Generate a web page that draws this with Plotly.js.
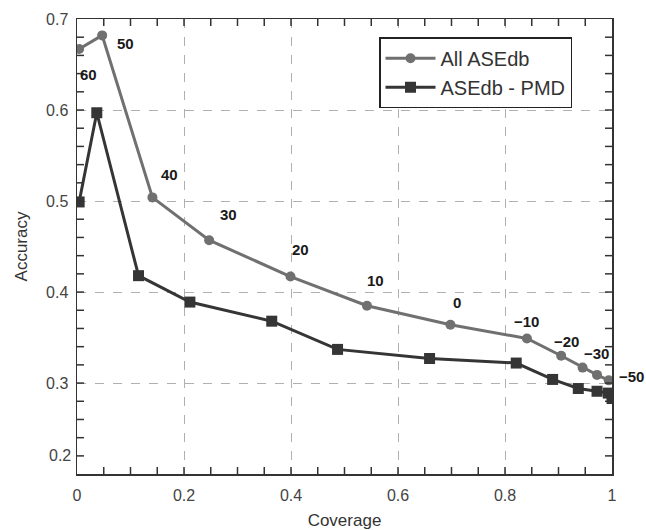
<!DOCTYPE html>
<html>
<head>
<meta charset="utf-8">
<script src="https://cdn.plot.ly/plotly-3.0.1.min.js"></script>
<style>html,body{margin:0;padding:0;background:#fff;}#chart{width:646px;height:530px;}</style>
</head>
<body>
<div id="chart"></div>
<script>
// Data
const allCoverage = [0.004, 0.047, 0.141, 0.247, 0.399, 0.542, 0.698, 0.841, 0.905, 0.945, 0.972, 0.994];
const allAccuracy = [0.667, 0.682, 0.504, 0.457, 0.417, 0.385, 0.364, 0.349, 0.330, 0.317, 0.309, 0.303];
const thresholdLabels = ["60", "50", "40", "30", "20", "10", "0", "−10", "−20", "−30", "", "−50"];

const pmdCoverage = [0.004, 0.037, 0.115, 0.211, 0.364, 0.487, 0.659, 0.821, 0.889, 0.937, 0.972, 0.993, 1.0];
const pmdAccuracy = [0.499, 0.597, 0.418, 0.389, 0.368, 0.337, 0.327, 0.322, 0.304, 0.294, 0.291, 0.289, 0.283];

// the reference prints its lowest y label "0.2" beside the 0.22 tick
const yLowTickVal = 0.22;
const yLowTickText = "0.2";

// axis tick spacing (major labels every 0.2 / 0.1, small ticks every 0.05 / 0.02)
const xTickStep = 0.05;
const yTickStep = 0.02;

// Label offsets (pixels) relative to each point
const labelDx = [9, 23, 17, 19, 10, 9, 7, 0, 5, 14, 0, 23];
const labelDy = [-25, -8, 23, 26, 27, 25, 22, 17, 14, 14, 0, 4];

const FONT = "Liberation Sans, Arial, sans-serif";
const AXC = "#333";

const traces = [
  {
    x: allCoverage, y: allAccuracy, name: "All ASEdb",
    type: "scatter", mode: "lines+markers",
    line: {color: "#707070", width: 3},
    marker: {symbol: "circle", size: 10, color: "#707070"}
  },
  {
    x: pmdCoverage, y: pmdAccuracy, name: "ASEdb - PMD",
    type: "scatter", mode: "lines+markers",
    line: {color: "#353535", width: 3},
    marker: {symbol: "square", size: 11, color: "#353535"}
  }
];

const tickFont = {family: FONT, size: 16, color: "#444"};

const annotations = allCoverage.map((x, i) => ({
  x: x, y: allAccuracy[i], xref: "x", yref: "y",
  text: thresholdLabels[i], showarrow: false,
  xshift: labelDx[i], yshift: labelDy[i],
  font: {family: FONT, size: 15, color: "#1a1a1a", weight: "bold"}
}));
annotations.push({
  x: 0, y: yLowTickVal, xref: "paper", yref: "y",
  text: yLowTickText, showarrow: false, xanchor: "right", yanchor: "middle", xshift: -4,
  font: tickFont
});

// inward tick marks on all four sides of the box (axis decoration)
const shapes = [];
const TL = 7;
for (let i = 1; i < Math.round(1 / xTickStep); i++) {
  const t = Math.round(i * xTickStep * 1000) / 1000;
  shapes.push({type: "line", layer: "above", xref: "x", yref: "paper", ysizemode: "pixel", yanchor: 0,
               x0: t, x1: t, y0: 0, y1: TL, line: {color: AXC, width: 1.5}});
  shapes.push({type: "line", layer: "above", xref: "x", yref: "paper", ysizemode: "pixel", yanchor: 1,
               x0: t, x1: t, y0: 0, y1: -TL, line: {color: AXC, width: 1.5}});
}
for (let i = 1; i < Math.round(0.5 / yTickStep); i++) {
  const t = Math.round((0.2 + i * yTickStep) * 1000) / 1000;
  shapes.push({type: "line", layer: "above", yref: "y", xref: "paper", xsizemode: "pixel", xanchor: 0,
               y0: t, y1: t, x0: 0, x1: TL, line: {color: AXC, width: 1.5}});
  shapes.push({type: "line", layer: "above", yref: "y", xref: "paper", xsizemode: "pixel", xanchor: 1,
               y0: t, y1: t, x0: 0, x1: -TL, line: {color: AXC, width: 1.5}});
}

const axisBase = {
  showline: true, linecolor: AXC, linewidth: 1.5, mirror: true,
  ticks: "",
  showgrid: true, gridcolor: "#b0b0b0", griddash: "dash", gridwidth: 1,
  zeroline: false, tickfont: tickFont
};

const layout = {
  width: 646, height: 530,
  margin: {l: 77, r: 34, t: 19, b: 56},
  paper_bgcolor: "#fff", plot_bgcolor: "#fff",
  showlegend: true,
  legend: {
    x: 0.5645, y: 0.96, xanchor: "left", yanchor: "top",
    bordercolor: "#222", borderwidth: 1.5, bgcolor: "#fff",
    font: {family: FONT, size: 20, color: "#333"},
    itemwidth: 50
  },
  xaxis: Object.assign({}, axisBase, {
    range: [0, 1], tickmode: "linear", tick0: 0, dtick: 0.2, ticklabelstandoff: 6,
    title: {text: "Coverage", font: {family: FONT, size: 17, color: "#333"}, standoff: 12}
  }),
  yaxis: Object.assign({}, axisBase, {
    range: [0.2001, 0.7], tickmode: "linear", tick0: 0.3, dtick: 0.1, ticklabelstandoff: 4,
    title: {text: "Accuracy", font: {family: FONT, size: 17, color: "#333"}, standoff: 14}
  }),
  annotations: annotations,
  shapes: shapes
};

Plotly.newPlot("chart", traces, layout, {displayModeBar: false, staticPlot: true});
</script>
</body>
</html>
